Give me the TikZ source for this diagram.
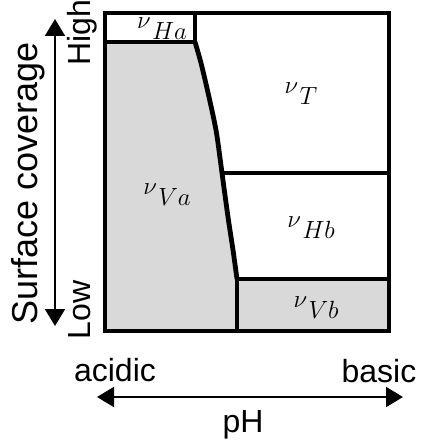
\documentclass[tikz,border=0pt]{standalone}
\usepackage{fontspec}
\setmainfont{Liberation Sans}
\usepackage{tikz}
\usetikzlibrary{arrows.meta}
\tikzset{
phase/.style={font=\fontsize{26}{26}\selectfont, inner sep=0pt},
side/.style={font=\fontsize{32}{32}\selectfont, inner sep=0pt},
frame/.style={line width=3.4pt},
border/.style={line width=4.8pt},
axis/.style={{Triangle[width=20pt,length=17pt]}-{Triangle[width=20pt,length=17pt]}, line width=2pt}
}
\def\edge{(195,42) (201,63) (209,97) (216,130) (220,158) (222,173) (228,217) (233,250) (237,279)}
\newcommand{\phlab}[1]{$\nu\mkern1mu\raisebox{-11pt}{$#1$}$}

\begin{document}
\begin{tikzpicture}[x=1pt,y=-1pt]
\useasboundingbox (0,0) rectangle (420,446);
% shaded phases
\fill[gray!30] (105,42) -- plot[smooth] coordinates {\edge} -- (237,331) -- (105,331) -- cycle;
\fill[gray!30] (237,279) rectangle (389,331);
% phase boundaries
\draw[border] (105,42) -- (195,42) -- (195,13);
\draw[border] plot[smooth] coordinates {\edge};
\draw[border] (222,173) -- (389,173);
\draw[border] (237,279) -- (389,279);
\draw[border] (237,279) -- (237,331);
\draw[frame] (105,13) rectangle (389,331);
% phase labels
\node[phase] (Ha) at (162,29) {\phlab{Ha}};
\node[phase] (T) at (301,94) {\phlab{T}};
\node[phase] (Va) at (167,195) {\phlab{Va}};
\node[phase] (Hb) at (311,228) {\phlab{Hb}};
\node[phase] (Vb) at (316,308) {\phlab{Vb}};
% axes
\coordinate (covlo) at (55,326);
\coordinate (covhi) at (55,19);
\coordinate (phlo) at (97,397);
\coordinate (phhi) at (403,397);
\draw[axis] (covlo) -- (covhi);
\draw[axis] (phlo) -- (phhi);
\node[side, font=\fontsize{36}{36}\selectfont, rotate=90, anchor=base] (cov) at (37,183) {Surface coverage};
\node[side, rotate=90, anchor=base] (high) at (90,33) {High};
\node[side, rotate=90, anchor=base] (low) at (90,310) {Low};
\node[side, anchor=base] (acid) at (115,381) {acidic};
\node[side, anchor=base] (base) at (379,382) {basic};
\node[side, anchor=base] (ph) at (243,432) {pH};
\end{tikzpicture}
\end{document}
